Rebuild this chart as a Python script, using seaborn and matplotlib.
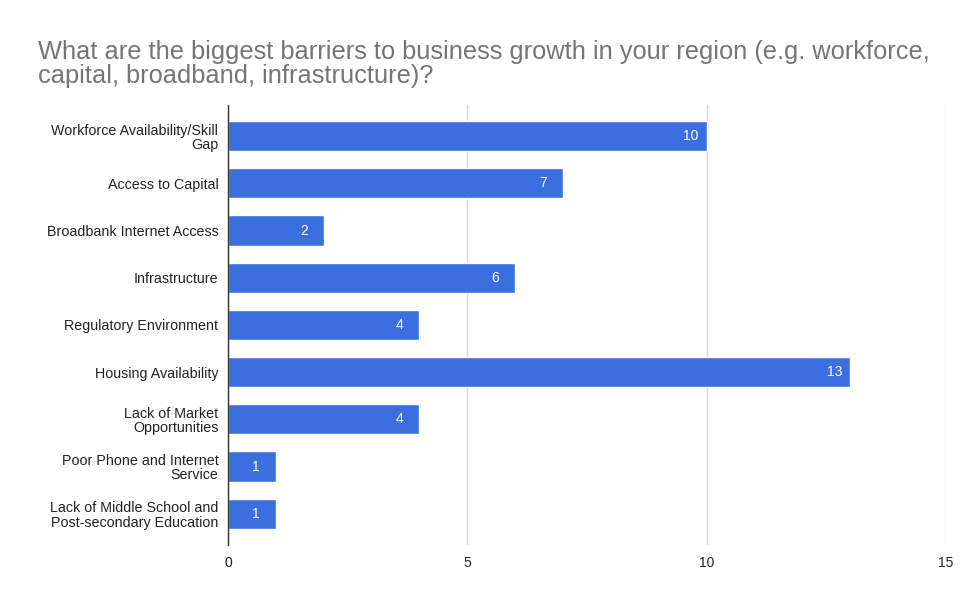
import matplotlib
matplotlib.use("Agg")
import matplotlib.pyplot as plt
import seaborn as sns
import pandas as pd

# Survey responses: barriers to business growth
categories = [
    "Workforce Availability/Skill\nGap",
    "Access to Capital",
    "Broadbank Internet Access",
    "Infrastructure",
    "Regulatory Environment",
    "Housing Availability",
    "Lack of Market\nOpportunities",
    "Poor Phone and Internet\nService",
    "Lack of Middle School and\nPost-secondary Education",
]
counts = [10, 7, 2, 6, 4, 13, 4, 1, 1]
x_ticks = [0, 5, 10, 15]

title = ("What are the biggest barriers to business growth in your region (e.g. workforce,\n"
         "capital, broadband, infrastructure)?")

df = pd.DataFrame({"barrier": categories, "count": counts})

sns.set_theme(style="white")
plt.rcParams["font.family"] = ["Liberation Sans", "DejaVu Sans"]

bar_color = "#3b6fe0"

fig = plt.figure(figsize=(9.64, 5.93), dpi=100)
ax = fig.add_axes([0.2365, 0.081, 0.7448, 0.742])

sns.barplot(data=df, x="count", y="barrier", orient="h", color=bar_color,
            saturation=1, width=0.64, ax=ax, zorder=3)

ax.set_xlim(0, 15)
ax.set_ylim(len(categories) - 0.5 + 0.16, -0.5 - 0.16)
ax.set_xticks(x_ticks)
ax.set_xticklabels([str(t) for t in x_ticks], fontsize=10, color="#222222")
ax.tick_params(axis="x", length=0, pad=8)
ax.tick_params(axis="y", length=0, pad=7, labelsize=10.3, labelcolor="#222222")
for lbl in ax.get_yticklabels():
    lbl.set_linespacing(1.02)
ax.set_xlabel("")
ax.set_ylabel("")

# vertical gridlines
ax.grid(axis="x", color="#d9d9d9", linewidth=1.0, zorder=0)
ax.grid(axis="y", visible=False)
for side in ["top", "right", "bottom"]:
    ax.spines[side].set_visible(False)
ax.spines["left"].set_color("#333333")
ax.spines["left"].set_linewidth(1.0)
ax.spines["left"].set_zorder(4)

# value labels inside bar ends
for container in ax.containers:
    ax.bar_label(container, labels=[str(v) for v in counts], label_type="edge",
                 padding=-17, color="white", fontsize=10, zorder=5)

fig.text(0.039, 0.932, title, fontsize=18.3, color="#757575",
         ha="left", va="top", linespacing=1.0)

fig.savefig("out.png", dpi=100, facecolor="white")
